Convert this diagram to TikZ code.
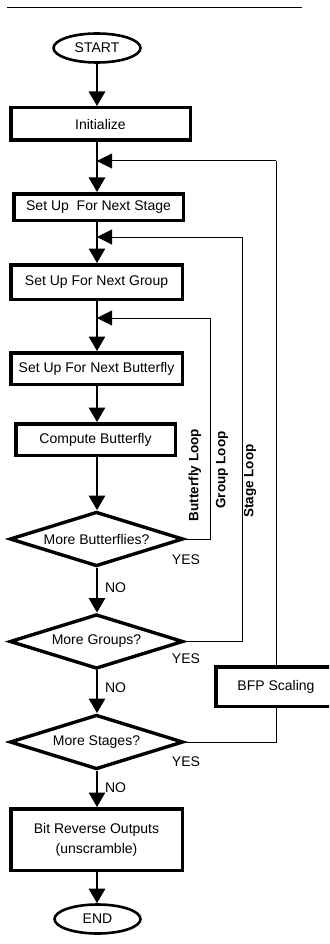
\documentclass[tikz,border=0pt]{standalone}
\usepackage{fontspec}
\setmainfont{Liberation Sans}
\usetikzlibrary{shapes.geometric,arrows.meta}
\tikzset{
  base/.style={draw, inner sep=0pt, font=\fontsize{14}{20}\selectfont},
  term/.style={base, ellipse, line width=2.6pt},
  box/.style={base, rectangle, line width=3.5pt, align=center},
  dec/.style={base, diamond, aspect=3, line width=3.4pt, minimum width=173.5pt, minimum height=54.5pt},
  txt/.style={inner sep=0pt, font=\fontsize{14}{16}\selectfont},
  looplbl/.style={inner sep=0pt, rotate=90, font=\fontsize{13.5}{16}\selectfont\bfseries},
  arr/.style={line width=1.4pt, -{Triangle[length=14.5pt,width=16.5pt]}},
  fb/.style={line width=1pt, -{Triangle[length=15pt,width=15pt]}},
  ln/.style={line width=1.4pt},
  fl/.style={line width=1pt}
}
\begin{document}
\begin{tikzpicture}[x=1pt,y=-1pt]
\useasboundingbox (0,0) rectangle (329,944);
\clip (0,0) rectangle (329,944);
% top rule
\coordinate (r1) at (7,7.5);
\coordinate (r2) at (302,7.5);
\draw[line width=1.3pt] (r1) -- (r2);

\node[term, minimum width=87pt, minimum height=29pt] (start) at (97,48) {START};
\node[box, minimum width=179.5pt, minimum height=32.5pt] (init) at (100.5,124) {Initialize};
\node[box, minimum width=169.5pt, minimum height=26.5pt] (stage) at (98.5,207) {Set Up\ \ For Next Stage};
\node[box, minimum width=171.5pt, minimum height=34.5pt] (group) at (96.5,282) {Set Up For Next Group};
\node[box, minimum width=171.5pt, minimum height=31.5pt] (bfly) at (96.5,368.5) {Set Up For Next Butterfly};
\node[box, minimum width=159.5pt, minimum height=31.5pt] (comp) at (95.5,439.5) {Compute Butterfly};
\node[dec] (mb) at (96.5,539) {More Butterflies?};
\node[dec] (mg) at (96.5,641.5) {More Groups?};
\node[dec] (ms) at (96.5,742) {More Stages?};
\node[box, minimum width=171.5pt, minimum height=61.5pt] (bitrev) at (96.5,839.5) {Bit Reverse Outputs\\(unscramble)};
\node[term, minimum width=86pt, minimum height=29pt] (end) at (97.5,919) {END};
\node[box, minimum width=120.5pt, minimum height=39.5pt] (bfp) at (276,686.5) {BFP Scaling};

% junctions and loop corners
\coordinate (j1) at (97,161);
\coordinate (j2) at (97,237);
\coordinate (j3) at (97,318);
\coordinate (c1) at (276,161);
\coordinate (c2) at (242,237);
\coordinate (c3) at (210,318);

% main flow
\draw[arr] (start.south) -- (start |- init.north);
\draw[ln] (start |- init.south) -- (j1);
\draw[arr] (j1) -- (start |- stage.north);
\draw[ln] (start |- stage.south) -- (j2);
\draw[arr] (j2) -- (start |- group.north);
\draw[ln] (start |- group.south) -- (j3);
\draw[arr] (j3) -- (start |- bfly.north);
\draw[arr] (start |- bfly.south) -- (start |- comp.north);
\draw[arr] (start |- comp.south) -- (start |- mb.north);
\draw[arr] (start |- mb.south) -- (start |- mg.north);
\draw[arr] (start |- mg.south) -- (start |- ms.north);
\draw[arr] (start |- ms.south) -- (start |- bitrev.north);
\draw[arr] (start |- bitrev.south) -- (start |- end.north);

% loops
\draw[fl] (mb.east) -| (c3);
\draw[fb] (c3) -- (j3);
\draw[fl] (mg.east) -| (c2);
\draw[fb] (c2) -- (j2);
\draw[fl] (ms.east) -| (bfp.south);
\draw[fl] (bfp.north) -- (c1);
\draw[fb] (c1) -- (j1);

% labels
\node[looplbl] (lb) at (195,475) {Butterfly Loop};
\node[looplbl] (lg) at (222,470) {Group Loop};
\node[looplbl] (ls) at (250,481) {Stage Loop};
\node[txt] (y1) at (186,560) {YES};
\node[txt] (y2) at (186,659) {YES};
\node[txt] (y3) at (186,762) {YES};
\node[txt] (n1) at (115.5,588) {NO};
\node[txt] (n2) at (115.5,688) {NO};
\node[txt] (n3) at (115.5,788) {NO};
\end{tikzpicture}
\end{document}
